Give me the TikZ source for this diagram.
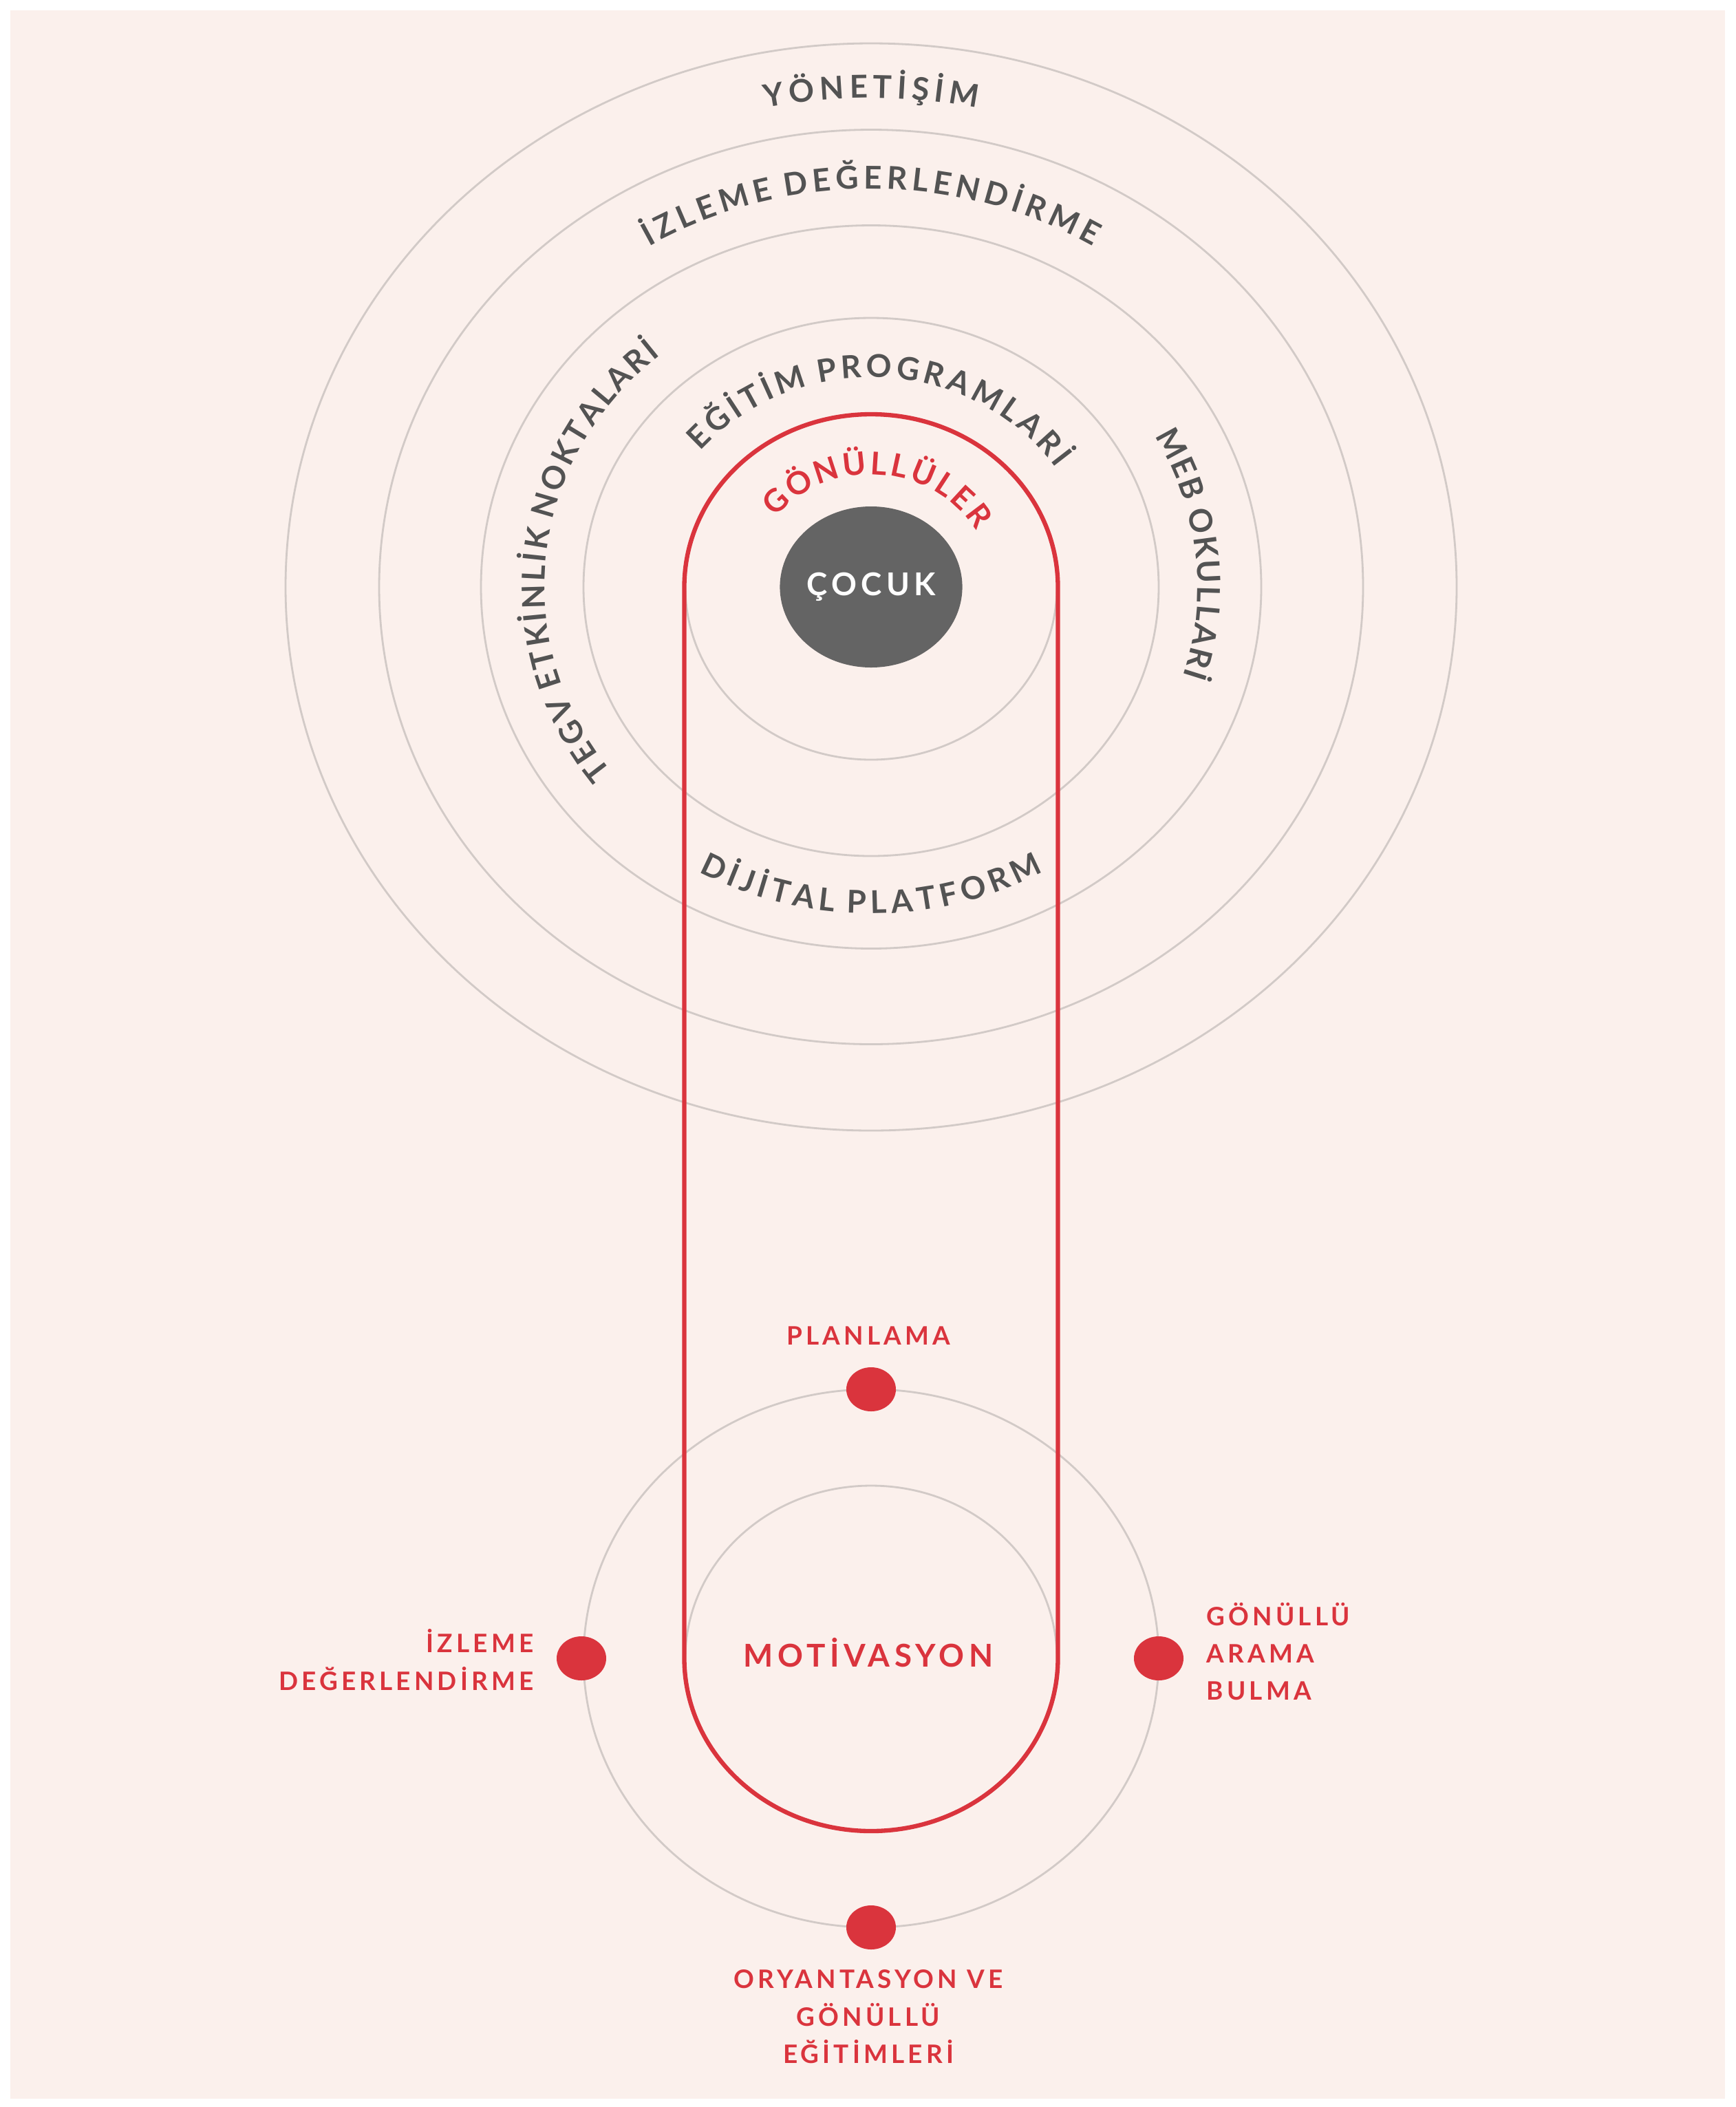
\documentclass[tikz,border=0pt]{standalone}
\usepackage{fontspec}
\setmainfont{Lato}
\newfontfamily\ringfont{Lato}
\newfontfamily\capfont{Lato}[LetterSpace=14]
\usetikzlibrary{decorations.text,shapes.geometric}

\definecolor{bgpink}{HTML}{FBF0EC}
\definecolor{ringgray}{HTML}{D2CAC7}
\definecolor{tegvred}{HTML}{DA343D}
\definecolor{textgray}{HTML}{535353}
\definecolor{kidgray}{HTML}{646464}

\newcommand\ringtype{\ringfont\bfseries\fontsize{13pt}{15pt}\selectfont}
\newcommand\maintype{\capfont\bfseries\fontsize{13pt}{15pt}\selectfont}
\newcommand\captype{\capfont\bfseries\fontsize{10.5pt}{15.5pt}\selectfont}
\newlength\trk
\newcommand\tk{\kern\trk}

\tikzset{
  ring/.style={draw=ringgray, line width=0.8pt},
  reddot/.style={ellipse, fill=tegvred, inner sep=0pt, minimum width=0.72cm, minimum height=0.64cm},
  steplabel/.style={text=tegvred, font=\captype, inner sep=0pt},
  arclabel/.style 2 args={decorate, decoration={text along path,
      text={|\ringtype|#1}, text align=center, text color=#2}}
}

\begin{document}
\begin{tikzpicture}
    \useasboundingbox (0,0) rectangle (25.22,-30.62);
    \fill[white] (0,0) rectangle (25.22,-30.62);
    \fill[bgpink] (0.15,-0.15) rectangle (25.07,-30.5);

    \coordinate (T) at (12.66,-8.53);
    \coordinate (L) at (12.66,-24.10);

    \draw[ring] (T) ellipse [x radius=8.51, y radius=7.90];
    \draw[ring] (T) ellipse [x radius=7.15, y radius=6.645];
    \draw[ring] (T) ellipse [x radius=5.67, y radius=5.255];
    \draw[ring] (T) ellipse [x radius=4.18, y radius=3.91];
    \draw[ring] (T) ellipse [x radius=2.70, y radius=2.51];

    \draw[ring] (L) ellipse [x radius=4.18, y radius=3.91];
    \draw[ring] (L) ellipse [x radius=2.70, y radius=2.51];

    \draw[tegvred, line width=1.8pt] (9.945,-8.53)
        arc[start angle=180, end angle=0, x radius=2.715, y radius=2.51]
        -- (15.375,-24.10)
        arc[start angle=0, end angle=-180, x radius=2.715, y radius=2.51]
        -- cycle;

    \node[ellipse, fill=kidgray, inner sep=0pt, minimum width=2.56cm, minimum height=2.34cm,
          text=white, font=\maintype] (cocuk) at (T) {ÇOCUK};

    \setlength\trk{2.1pt}
    \path[arclabel={{Y\tk}{Ö\tk}{N\tk}{E\tk}{T\tk}{İ\tk}{Ş\tk}{İ\tk}M}{textgray}]
        (T) ++(150:7.65 and 7.105)
        arc[start angle=150, end angle=30, x radius=7.65, y radius=7.105];
    \setlength\trk{1.9pt}
    \path[arclabel={{İ\tk}{Z\tk}{L\tk}{E\tk}{M\tk}{E\tk} {D\tk}{E\tk}{Ğ\tk}{E\tk}{R\tk}{L\tk}{E\tk}{N\tk}{D\tk}{İ\tk}{R\tk}{M\tk}E}{textgray}]
        (T) ++(170:6.23 and 5.785)
        arc[start angle=170, end angle=10, x radius=6.23, y radius=5.785];
    \setlength\trk{1.6pt}
    \path[arclabel={{E\tk}{Ğ\tk}{İ\tk}{T\tk}{İ\tk}{M\tk} {P\tk}{R\tk}{O\tk}{G\tk}{R\tk}{A\tk}{M\tk}{L\tk}{A\tk}{R\tk}İ}{textgray}]
        (T) ++(177:3.26 and 3.045)
        arc[start angle=177, end angle=-3, x radius=3.26, y radius=3.045];
    \setlength\trk{1.2pt}
    \path[arclabel={{G\tk}{Ö\tk}{N\tk}{Ü\tk}{L\tk}{L\tk}{Ü\tk}{L\tk}{E\tk}R}{tegvred}]
        (T) ++(176:1.76 and 1.635)
        arc[start angle=176, end angle=-4, x radius=1.76, y radius=1.635];
    \setlength\trk{1.1pt}
    \path[arclabel={{T\tk}{E\tk}{G\tk}{V\tk} {E\tk}{T\tk}{K\tk}{İ\tk}{N\tk}{L\tk}{İ\tk}{K\tk} {N\tk}{O\tk}{K\tk}{T\tk}{A\tk}{L\tk}{A\tk}{R\tk}İ}{textgray}]
        (T) ++(264:4.745 and 4.415)
        arc[start angle=264, end angle=84, x radius=4.745, y radius=4.415];
    \setlength\trk{0.8pt}
    \path[arclabel={{M\tk}{E\tk}{B\tk} {O\tk}{K\tk}{U\tk}{L\tk}{L\tk}{A\tk}{R\tk}İ}{textgray}]
        (T) ++(96:4.745 and 4.415)
        arc[start angle=96, end angle=-84, x radius=4.745, y radius=4.415];
    \setlength\trk{2.0pt}
    \path[arclabel={{D\tk}{İ\tk}{J\tk}{İ\tk}{T\tk}{A\tk}{L\tk} {P\tk}{L\tk}{A\tk}{T\tk}{F\tk}{O\tk}{R\tk}M}{textgray}]
        (T) ++(180:5.105 and 4.745)
        arc[start angle=180, end angle=360, x radius=5.105, y radius=4.745];

    \node[text=tegvred, font=\maintype] (motiv) at (12.62,-24.02) {MOTİVASYON};

    \node[reddot] (planDot) at (12.66,-20.19) {};
    \node[reddot] (oryDot) at (12.66,-28.01) {};
    \node[reddot] (izlDot) at (8.45,-24.10) {};
    \node[reddot] (araDot) at (16.84,-24.10) {};

    \node[steplabel] (planLbl) at (12.62,-19.41) {PLANLAMA};
    \node[steplabel, anchor=east, align=right] (izlLbl) at (7.76,-24.12) {İZLEME\\DEĞERLENDİRME};
    \node[steplabel, anchor=west, align=left] (araLbl) at (17.53,-24.00) {GÖNÜLLÜ\\ARAMA\\BULMA};
    \node[steplabel, align=center] (oryLbl) at (12.62,-29.31) {ORYANTASYON VE\\GÖNÜLLÜ\\EĞİTİMLERİ};
\end{tikzpicture}
\end{document}
